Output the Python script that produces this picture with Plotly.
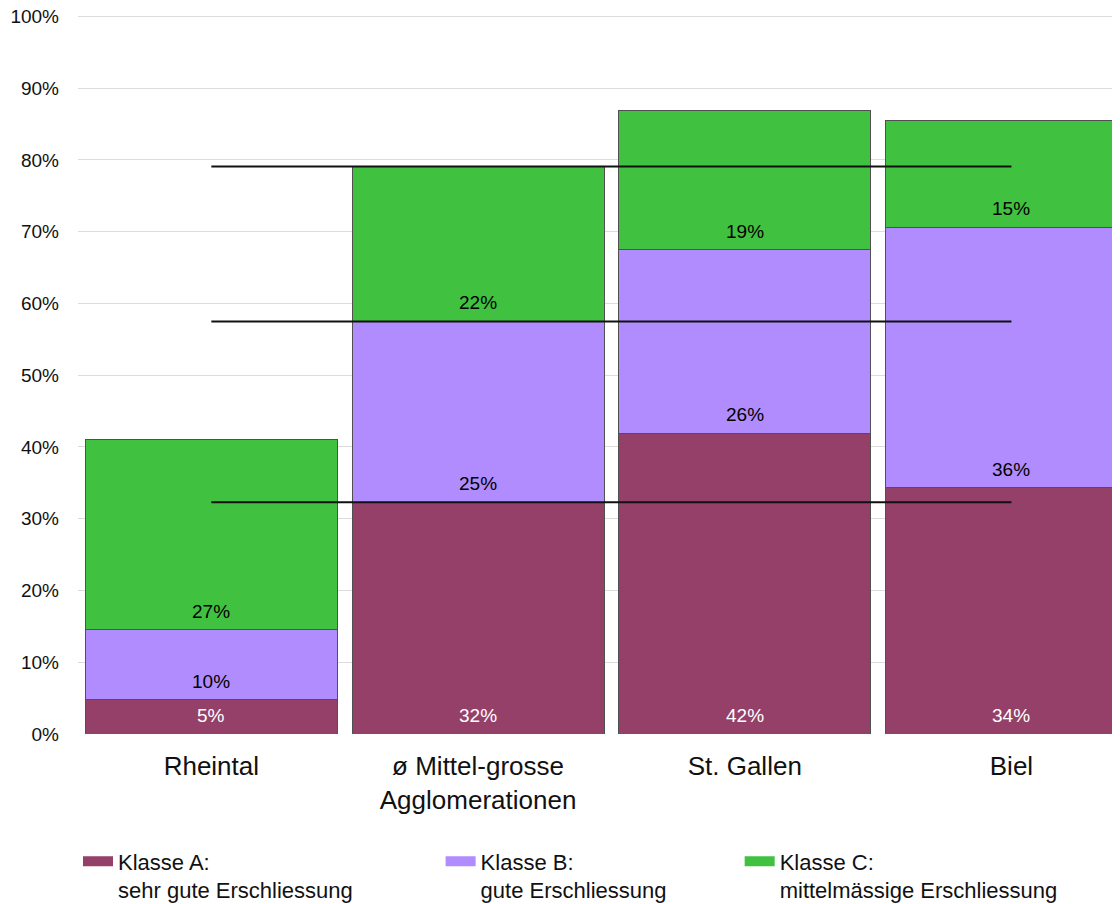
import plotly.graph_objects as go

categories = ["Rheintal", "ø Mittel-grosse<br>Agglomerationen", "St. Gallen", "Biel"]
klasse_a = [4.8, 32.3, 41.9, 34.3]
klasse_b = [9.7, 25.2, 25.6, 36.3]
klasse_c = [26.6, 21.6, 19.4, 14.9]
series_names = ["Klasse A:<br>sehr gute Erschliessung",
                "Klasse B:<br>gute Erschliessung",
                "Klasse C:<br>mittelmässige Erschliessung"]
colors = ["#954069", "#B18CFF", "#40C240"]
label_colors = ["white", "black", "black"]
ref_index = 1  # reference category for horizontal lines
y_ticks = list(range(0, 101, 10))
y_tick_labels = [f"{t}%" for t in y_ticks]

FONT = "Liberation Sans, Arial, Helvetica, sans-serif"
series = [klasse_a, klasse_b, klasse_c]

fig = go.Figure()
for vals, name, col in zip(series, series_names, colors):
    fig.add_trace(go.Bar(x=categories, y=vals, name=name, marker_color=col,
                         marker_line=dict(color="#505050", width=1),
                         showlegend=False, hoverinfo="skip"))

# horizontal reference lines at cumulative levels of the reference category
cum = 0
for vals in series:
    cum += vals[ref_index]
    fig.add_trace(go.Scatter(x=[categories[0], categories[-1]], y=[cum, cum],
                             mode="lines", line=dict(color="#111111", width=2),
                             showlegend=False, hoverinfo="skip"))

# legend proxies (one legend per entry)
legend_ids = ["legend", "legend2", "legend3"]
for name, col, lg in zip(series_names, colors, legend_ids):
    fig.add_trace(go.Scatter(x=[None], y=[None], mode="lines", name=name,
                             line=dict(color=col, width=13), legend=lg))

# data labels at segment base
annotations = []
for i, cat in enumerate(categories):
    base = 0
    for s, vals in enumerate(series):
        v = vals[i]
        annotations.append(dict(x=cat, y=base, xref="x", yref="y", text=f"{v:.0f}%",
                                showarrow=False, yanchor="bottom", yshift=6,
                                font=dict(family=FONT, size=19, color=label_colors[s])))
        base += v

legend_font = dict(family=FONT, size=22, color="#111111")
leg_common = dict(orientation="h", yanchor="top", xanchor="left", y=-0.148,
                  font=legend_font, bgcolor="rgba(0,0,0,0)", valign="top",
                  itemwidth=30)

fig.update_layout(
    width=1120, height=904,
    margin=dict(l=70, r=8, t=7, b=178, autoexpand=False),
    barmode="stack", bargap=0.055,
    plot_bgcolor="white", paper_bgcolor="white",
    font=dict(family=FONT, color="#111111"),
    annotations=annotations,
    legend=dict(x=0.0, **leg_common),
    legend2=dict(x=0.348, **leg_common),
    legend3=dict(x=0.635, **leg_common),
    xaxis=dict(range=[-0.5, 3.407], showgrid=False, showline=False, zeroline=False,
               tickfont=dict(family=FONT, size=26, color="#111111"), ticklabelstandoff=14),
    yaxis=dict(range=[0, 100.2], tickvals=y_ticks, ticktext=y_tick_labels,
               showgrid=True, gridcolor="#DCDCDC", gridwidth=1, zeroline=False,
               showline=False, tickfont=dict(family=FONT, size=19, color="#111111"),
               ticklabelstandoff=18, ticklabeloverflow="allow"),
)

fig.write_html("out.html")
